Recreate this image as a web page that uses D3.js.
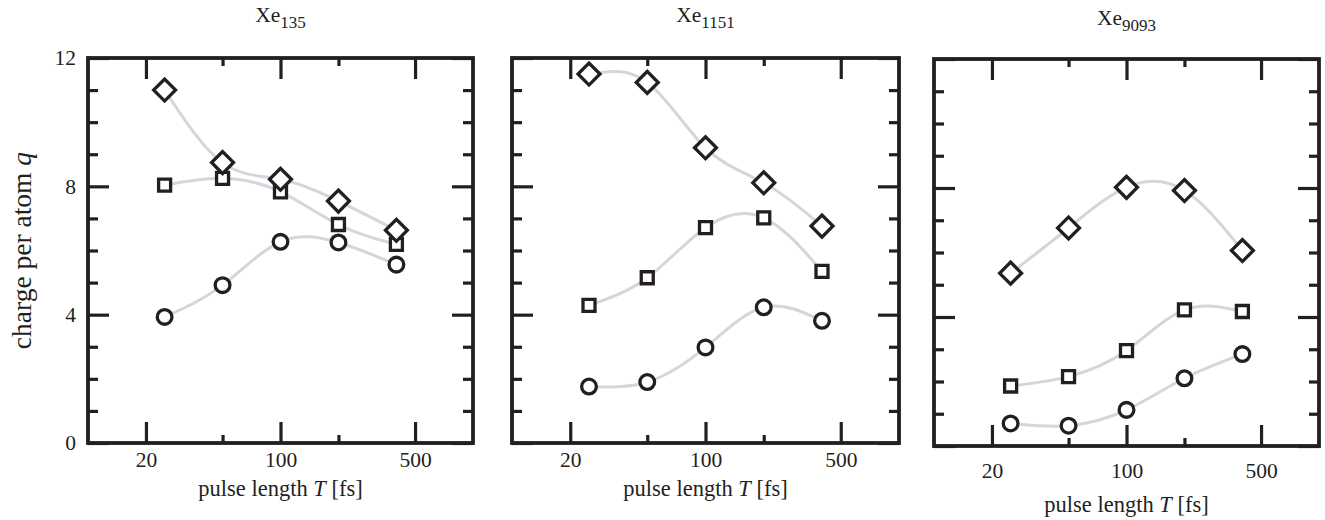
<!DOCTYPE html>
<html lang="en">
<head>
<meta charset="UTF-8" />
<title>Xe clusters</title>
<script src="https://cdn.jsdelivr.net/npm/d3@7/dist/d3.min.js"></script>
<style>
  body { margin: 0; background: #fff; }
  svg { display: block; }
  text { font-family: "Liberation Serif", "DejaVu Serif", serif; fill: #231f20; }
</style>
</head>
<body>
<svg width="1325" height="520"></svg>
<script>
// pulse lengths (fs)
const pulses = [25, 50, 100, 200, 400];
const xMajor = [20, 100, 500];
const xMinor = [50, 200];
const yMajor = [0, 4, 8, 12];
const yMinor = [1, 2, 3, 5, 6, 7, 9, 10, 11];

const titles = [["Xe", "135"], ["Xe", "1151"], ["Xe", "9093"]];

// charge per atom q, per cluster
const xe135Diamond = [11.0, 8.74, 8.22, 7.54, 6.63];
const xe135Square  = [8.04, 8.25, 7.83, 6.81, 6.19];
const xe135Circle  = [3.93, 4.92, 6.27, 6.25, 5.56];

const xe1151Diamond = [11.5, 11.24, 9.2, 8.11, 6.76];
const xe1151Square  = [4.29, 5.15, 6.71, 7.02, 5.35];
const xe1151Circle  = [1.76, 1.9, 2.98, 4.23, 3.81];

const xe9093Diamond = [5.36, 6.76, 8.02, 7.92, 6.06];
const xe9093Square  = [1.86, 2.15, 2.96, 4.22, 4.17];
const xe9093Circle  = [0.7, 0.63, 1.12, 2.1, 2.85];

const panels = [
  {x0: 88, x1: 473, top: 58, bottom: 443, titleY: 22, pad: 9, labelY: 496, yLabels: true,
   series: [xe135Circle, xe135Square, xe135Diamond]},
  {x0: 512, x1: 899, top: 58, bottom: 443, titleY: 22, pad: 9, labelY: 496, yLabels: false,
   series: [xe1151Circle, xe1151Square, xe1151Diamond]},
  {x0: 934, x1: 1319, top: 59, bottom: 446, titleY: 25, pad: 17, labelY: 512, yLabels: false,
   series: [xe9093Circle, xe9093Square, xe9093Diamond]}
];

const ink = "#231f20";
const svg = d3.select("svg");

const shapes = [
  d3.symbol().type(d3.symbolCircle).size(170),
  d3.symbol().type(d3.symbolSquare).size(144),
  d3.symbol().type(d3.symbolSquare).size(240)
];

panels.forEach((p, i) => {
  const x = d3.scaleLog().domain([10, 1000]).range([p.x0, p.x1]);
  const y = d3.scaleLinear().domain([0, 12]).range([p.bottom, p.top]);
  const g = svg.append("g");

  const axes = [
    [d3.axisBottom(x).tickValues(xMajor).tickSize(-21).tickPadding(p.pad).tickFormat(d3.format("d")), `translate(0,${p.bottom})`],
    [d3.axisBottom(x).tickValues(xMinor).tickSize(-8).tickFormat(""), `translate(0,${p.bottom})`],
    [d3.axisTop(x).tickValues(xMajor).tickSize(-21).tickFormat(""), `translate(0,${p.top})`],
    [d3.axisTop(x).tickValues(xMinor).tickSize(-8).tickFormat(""), `translate(0,${p.top})`],
    [d3.axisLeft(y).tickValues(yMajor).tickSize(-21).tickPadding(12).tickFormat(p.yLabels ? d3.format("d") : ""), `translate(${p.x0},0)`],
    [d3.axisLeft(y).tickValues(yMinor).tickSize(-10).tickFormat(""), `translate(${p.x0},0)`],
    [d3.axisRight(y).tickValues(yMajor).tickSize(-21).tickFormat(""), `translate(${p.x1},0)`],
    [d3.axisRight(y).tickValues(yMinor).tickSize(-10).tickFormat(""), `translate(${p.x1},0)`]
  ];
  axes.forEach(([ax, tr]) => {
    const a = g.append("g").attr("transform", tr).call(ax);
    a.select(".domain").remove();
    a.selectAll("line").attr("stroke", ink).attr("stroke-width", 3.2);
    a.selectAll("text").attr("font-size", 21.5).attr("fill", ink);
  });

  g.append("rect")
    .attr("x", p.x0).attr("y", p.top)
    .attr("width", p.x1 - p.x0).attr("height", p.bottom - p.top)
    .attr("fill", "none").attr("stroke", ink).attr("stroke-width", 3.8);

  const line = d3.line()
    .x((d, j) => x(pulses[j]))
    .y(d => y(d))
    .curve(d3.curveNatural);

  p.series.forEach(s => {
    g.append("path").attr("d", line(s))
      .attr("fill", "none").attr("stroke", "#d4d6de").attr("stroke-width", 3);
  });

  p.series.forEach((s, k) => {
    g.selectAll(null).data(s).join("path")
      .attr("d", shapes[k])
      .attr("transform", (d, j) => `translate(${x(pulses[j])},${y(d)})` + (k === 2 ? " rotate(45)" : ""))
      .attr("fill", "#fff").attr("stroke", ink).attr("stroke-width", 3.3);
  });

  const cx = (p.x0 + p.x1) / 2;
  const t = g.append("text").attr("x", cx).attr("y", p.titleY)
    .attr("text-anchor", "middle").attr("font-size", 21.5);
  t.append("tspan").text(titles[i][0]);
  t.append("tspan").attr("dy", 6).attr("font-size", 17).text(titles[i][1]);

  const xl = g.append("text").attr("x", cx).attr("y", p.labelY)
    .attr("text-anchor", "middle").attr("font-size", 22.5);
  xl.append("tspan").text("pulse length ");
  xl.append("tspan").attr("font-style", "italic").text("T");
  xl.append("tspan").text(" [fs]");

  if (p.yLabels) {
    const yl = g.append("text")
      .attr("transform", `translate(31,${(p.top + p.bottom) / 2}) rotate(-90)`)
      .attr("text-anchor", "middle").attr("font-size", 27.5);
    yl.append("tspan").text("charge per atom ");
    yl.append("tspan").attr("font-style", "italic").text("q");
  }
});
</script>
</body>
</html>
